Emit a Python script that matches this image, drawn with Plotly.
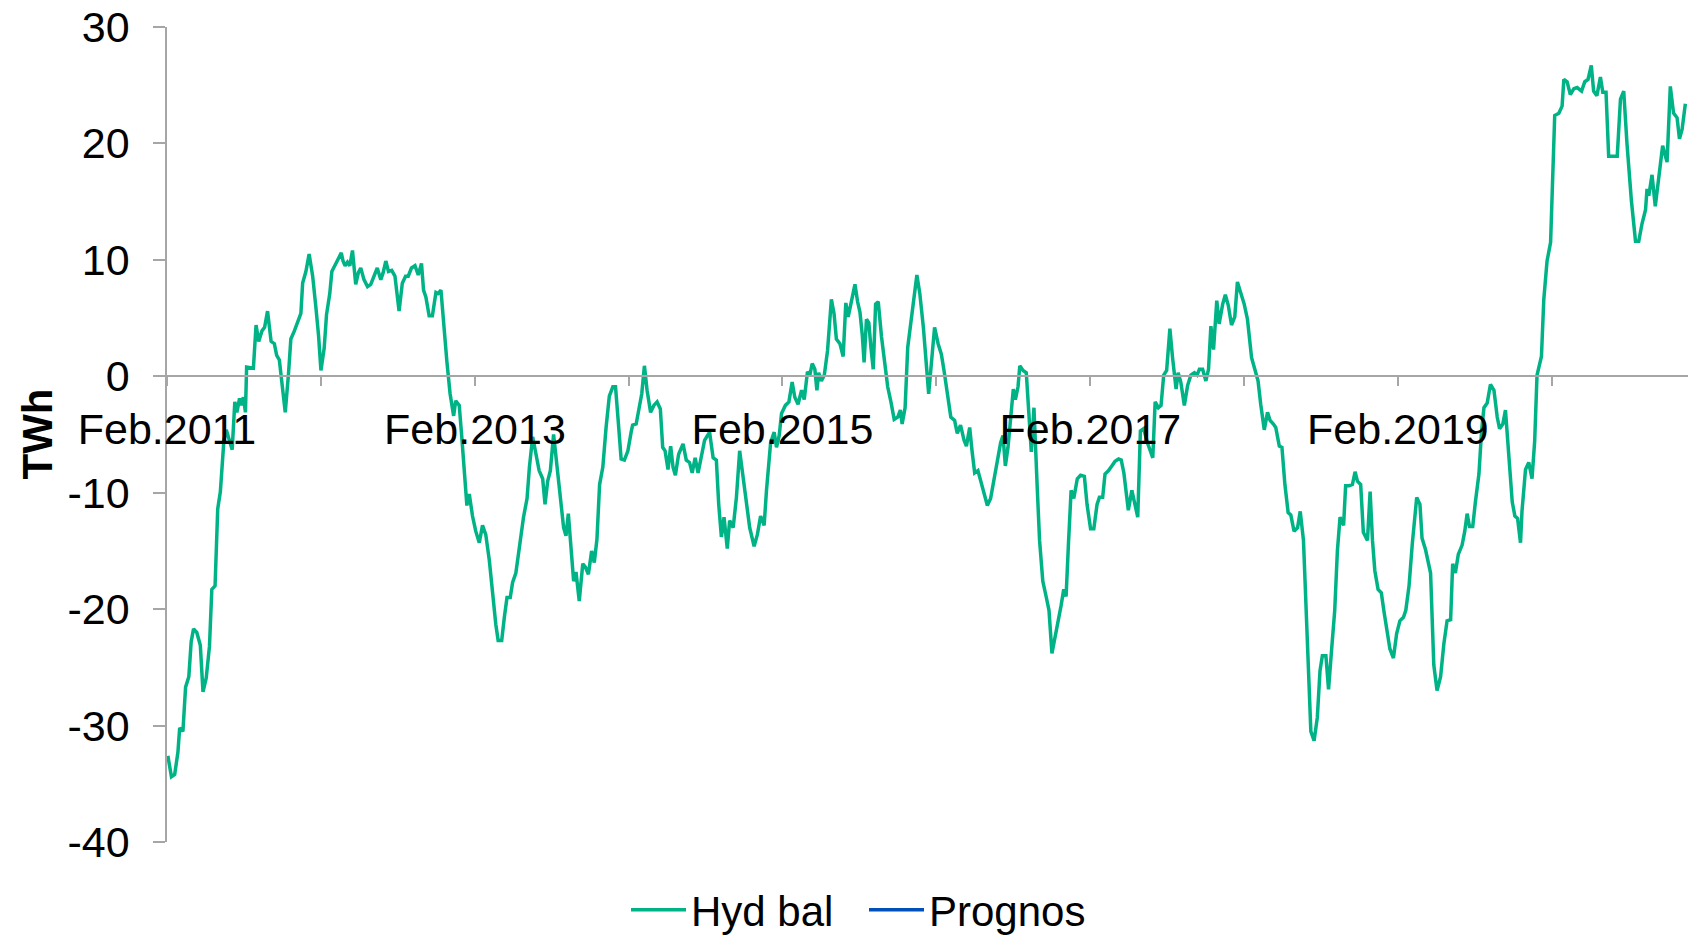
import numpy as np
import pandas as pd
import plotly.graph_objects as go

# ---- data ----
start_date = "2011-02-01"
# weeks since start_date, and hydro balance in TWh
weeks = [
    0.3, 1.5, 2.6, 3.7, 4.3, 5.4, 6.3, 7.4, 8.2, 9.0, 10.1, 11.3, 12.2, 13.3, 14.4, 15.2, 16.3, 17.2, 18.1, 19.3,
    20.1, 21.2, 22.1, 23.0, 23.7, 24.6, 25.1, 25.9, 26.6, 27.0, 28.5, 29.3, 30.2, 31.1, 32.2, 33.1, 34.1, 35.3, 36.4, 37.2,
    38.1, 39.2, 40.1, 41.2, 42.0, 43.2, 44.3, 45.4, 46.0, 47.1, 48.2, 49.4, 50.5, 51.4, 52.2, 53.3, 54.1, 55.2, 55.9, 57.0,
    58.2, 59.1, 59.7, 60.4, 61.2, 62.0, 62.9, 64.0, 64.9, 65.7, 66.8, 68.0, 69.1, 70.2, 71.3, 72.5, 73.3, 74.2, 75.1, 76.2,
    77.3, 78.7, 79.8, 80.9, 81.8, 82.9, 84.1, 85.2, 86.3, 87.0, 87.8, 88.9, 90.0, 91.2, 91.9, 92.9, 93.8, 94.9, 96.0, 97.2,
    97.9, 99.1, 99.9, 100.8, 101.7, 102.5, 103.6, 104.7, 105.9, 107.0, 108.1, 109.3, 110.4, 111.5, 112.3, 113.5, 114.4, 115.3, 116.4, 117.2,
    118.3, 119.1, 120.0, 120.9, 122.1, 122.9, 124.0, 125.1, 126.2, 127.4, 128.2, 129.1, 130.0, 131.1, 132.2, 133.4, 134.5, 135.3, 136.1, 137.0,
    137.9, 138.7, 139.8, 141.0, 141.9, 142.9, 144.0, 144.9, 145.8, 146.7, 147.8, 148.9, 150.0, 151.2, 152.1, 153.1, 154.0, 155.1, 156.3, 157.4,
    157.9, 159.1, 159.9, 161.0, 161.9, 162.8, 164.0, 165.1, 166.2, 167.3, 168.1, 168.9, 169.9, 170.8, 171.6, 172.4, 173.5, 175.0, 176.1, 177.2,
    178.1, 179.1, 180.1, 181.2, 182.3, 184.0, 185.2, 186.3, 187.1, 188.0, 188.9, 190.0, 190.8, 192.0, 193.1, 194.2, 195.4, 196.5, 197.6, 199.1,
    200.2, 201.3, 202.5, 203.3, 204.1, 204.7, 205.9, 206.7, 207.6, 208.4, 209.7, 210.9, 212.0, 212.9, 214.0, 215.2, 216.1, 217.2, 218.0, 218.8,
    219.7, 220.4, 221.0, 221.9, 222.9, 224.0, 225.3, 226.2, 227.0, 228.2, 229.3, 230.2, 231.0, 231.6, 232.4, 233.3, 234.2, 235.0, 235.8, 236.4,
    237.2, 238.0, 238.7, 239.5, 240.3, 241.2, 242.3, 243.5, 244.4, 245.5, 246.6, 247.8, 248.7, 249.3, 250.3, 251.2, 252.7, 254.3, 255.3, 256.5,
    258.3, 259.2, 260.3, 261.5, 262.6, 263.5, 264.6, 265.8, 267.1, 268.0, 269.1, 270.3, 271.1, 272.2, 273.0, 273.9, 275.0, 275.9, 277.0, 278.2,
    279.3, 280.4, 281.6, 282.7, 283.5, 284.3, 285.2, 286.1, 287.0, 287.7, 288.6, 289.2, 290.3, 291.4, 292.2, 293.1, 294.0, 294.4, 295.1, 295.9,
    297.0, 298.2, 299.1, 300.1, 301.2, 302.4, 303.2, 304.1, 304.9, 305.7, 306.6, 307.5, 308.7, 309.8, 311.1, 312.0, 313.2, 314.3, 315.4, 316.2,
    317.3, 318.1, 319.3, 320.4, 321.5, 322.7, 323.6, 324.5, 325.3, 326.0, 327.2, 328.1, 329.2, 330.1, 331.2, 332.6, 334.3, 335.1, 336.2, 337.1,
    338.0, 339.0, 340.1, 341.0, 342.2, 342.9, 343.8, 345.0, 346.1, 347.2, 348.4, 349.3, 350.1, 351.2, 352.3, 353.2, 354.0, 354.9, 356.0, 356.8,
    358.0, 358.9, 359.9, 361.0, 362.1, 363.0, 364.2, 365.3, 366.4, 367.8, 368.9, 370.0, 370.9, 372.1, 373.2, 374.1, 375.2, 376.0, 377.2, 378.1,
    379.1, 380.2, 381.1, 382.2, 383.4, 384.3, 385.4, 386.5, 387.9, 389.0, 390.1, 391.0, 391.8, 393.0, 393.9, 394.9, 396.0, 396.9, 397.8, 399.0,
    399.7, 400.9, 402.0, 402.9, 403.7, 404.8, 405.7, 407.1, 408.0, 408.8, 409.6, 410.7, 411.8, 412.7, 413.8, 414.7, 415.9, 417.0, 418.1, 419.3,
    420.1, 421.2, 422.3, 423.8, 424.9, 425.6, 426.8, 428.5, 429.6, 430.7, 431.9, 433.0, 434.1, 435.3, 436.0, 436.9, 437.9, 439.2, 440.1, 440.9,
    441.7, 442.8, 443.7, 444.9, 445.8, 446.6, 447.7, 448.8, 450.0, 451.1, 451.9, 453.0, 453.9, 454.8, 456.2, 457.1, 458.0, 459.0, 459.5, 460.7,
    461.8, 462.9, 463.8, 464.6, 466.1, 466.9, 468.0, 469.2, 469.9, 470.6, 472.0, 473.1, 473.7, 474.8, 475.9, 477.1, 478.2, 479.7, 480.8, 481.9,
    483.0, 483.8, 484.9, 486.1, 486.9, 488.0, 488.9, 490.6, 491.8, 492.9, 494.0, 495.1, 496.6, 498.0, 499.1, 500.2, 501.4, 501.9, 502.5, 503.6,
    504.7, 505.9, 507.2, 508.7, 509.8, 510.9, 512.1, 512.9, 513.8, 514.9,
]
hyd_bal = [
    -32.6, -34.4, -34.2, -32.3, -30.2, -30.5, -26.7, -25.8, -22.8, -21.7, -22.0, -23.1, -27.1, -25.9, -23.2, -18.3, -18.0, -11.4, -9.9, -5.5,
    -4.6, -5.7, -6.3, -2.2, -3.1, -1.9, -2.5, -1.8, -3.1, 0.8, 0.7, 0.7, 4.4, 3.0, 3.9, 4.2, 5.6, 3.0, 2.8, 1.8,
    1.4, -1.0, -3.1, 0.2, 3.2, 3.9, 4.6, 5.4, 8.0, 9.0, 10.5, 8.6, 5.9, 3.5, 0.5, 2.4, 5.3, 7.1, 9.0, 9.5,
    10.2, 10.6, 9.9, 9.5, 9.8, 9.5, 10.8, 7.9, 8.9, 9.3, 8.3, 7.7, 7.9, 8.7, 9.3, 8.3, 8.9, 9.9, 9.0, 9.1,
    8.6, 5.6, 8.0, 8.6, 8.6, 9.3, 9.5, 8.7, 9.7, 7.4, 6.8, 5.2, 5.2, 7.2, 7.1, 7.4, 4.5, 1.3, -1.5, -3.4,
    -2.1, -2.5, -5.0, -8.4, -11.1, -10.1, -12.0, -13.3, -14.3, -12.8, -13.6, -15.8, -18.7, -21.3, -22.7, -22.7, -20.7, -19.0, -19.0, -17.7,
    -16.9, -15.3, -14.0, -12.1, -10.5, -7.8, -5.2, -6.7, -8.1, -8.8, -11.0, -9.0, -8.1, -5.0, -7.8, -10.7, -13.0, -13.7, -11.8, -14.7,
    -17.6, -16.8, -19.3, -16.1, -16.4, -17.0, -15.0, -16.0, -14.0, -9.3, -7.8, -4.4, -1.7, -0.9, -0.9, -4.1, -7.1, -7.2, -6.4, -4.8,
    -4.2, -4.1, -3.0, -1.5, 0.9, -1.2, -3.1, -2.5, -2.2, -2.8, -6.1, -6.4, -8.0, -6.0, -7.8, -8.5, -6.7, -5.8, -7.2, -7.4,
    -8.3, -7.0, -8.3, -7.0, -5.5, -4.8, -7.0, -7.2, -11.0, -13.8, -12.1, -14.8, -12.4, -13.0, -10.4, -6.4, -8.7, -11.3, -13.0, -14.6,
    -13.6, -12.0, -12.8, -9.8, -7.8, -5.7, -4.8, -6.1, -5.1, -3.2, -2.5, -2.2, -0.5, -1.8, -2.4, -1.2, -2.0, 0.4, 0.1, 1.1,
    0.6, -1.2, 0.3, -0.4, 0.1, 2.2, 6.6, 5.4, 3.2, 2.8, 1.7, 6.3, 5.1, 5.9, 6.8, 7.9, 6.4, 5.5, 3.5, 1.2,
    4.9, 4.6, 2.5, 0.6, 6.2, 6.4, 3.4, 1.1, -0.9, -2.2, -3.7, -3.5, -2.9, -4.1, -2.7, 2.5, 5.6, 8.7, 7.1, 4.2,
    -1.5, 1.3, 4.2, 2.8, 1.9, 0.5, -1.5, -3.5, -3.8, -4.9, -4.2, -5.5, -6.0, -4.4, -6.4, -8.3, -8.1, -9.0, -10.1, -11.1,
    -10.5, -9.0, -7.1, -5.7, -5.1, -7.7, -6.1, -3.8, -1.1, -2.0, -0.9, 0.9, 0.5, 0.3, -2.7, -6.5, -2.7, -4.7, -9.5, -14.1,
    -17.6, -19.0, -20.1, -23.8, -22.4, -21.0, -19.7, -18.3, -18.9, -14.4, -9.8, -10.5, -8.8, -8.5, -8.6, -11.0, -13.1, -13.1, -11.0, -10.4,
    -10.4, -8.4, -8.1, -7.7, -7.3, -7.1, -7.2, -8.3, -9.8, -11.5, -9.8, -11.0, -12.1, -4.7, -4.5, -5.8, -7.0, -2.2, -2.7, -2.5,
    0.1, 0.5, 4.1, 1.6, -1.1, 0.3, -0.5, -2.5, -0.8, 0.1, 0.3, 0.1, 0.6, 0.6, -0.4, 0.6, 4.3, 2.3, 6.5, 4.5,
    6.2, 7.0, 6.1, 4.4, 5.1, 8.1, 7.1, 6.2, 4.9, 1.6, 0.6, -0.4, -2.4, -4.6, -3.1, -3.8, -4.1, -4.4, -6.0, -6.1,
    -9.3, -11.7, -11.9, -13.3, -13.0, -11.6, -14.1, -21.3, -30.5, -31.3, -29.3, -25.3, -24.0, -24.0, -26.9, -23.6, -20.1, -15.0, -12.1, -12.8,
    -9.4, -9.4, -9.3, -8.2, -9.0, -9.3, -13.4, -14.1, -9.9, -14.1, -16.7, -18.3, -18.6, -20.2, -22.1, -23.4, -24.2, -22.1, -21.0, -20.7,
    -20.1, -18.0, -14.4, -10.4, -11.0, -13.9, -14.9, -16.9, -24.8, -27.0, -25.8, -23.0, -21.0, -20.9, -16.1, -16.9, -15.3, -14.5, -13.3, -11.8,
    -12.9, -12.9, -10.8, -8.4, -4.7, -2.7, -2.3, -0.7, -1.2, -3.5, -4.5, -4.1, -2.9, -6.0, -10.8, -12.0, -12.2, -14.3, -11.6, -8.0,
    -7.4, -8.8, -5.6, 0.1, 1.7, 6.6, 9.9, 11.5, 16.3, 22.4, 22.6, 23.2, 25.5, 25.3, 24.2, 24.7, 24.8, 24.5, 25.3, 25.5,
    26.7, 24.5, 24.1, 25.7, 24.4, 24.4, 18.9, 18.9, 18.9, 23.8, 24.5, 20.0, 15.1, 11.6, 11.6, 13.1, 14.3, 16.1, 15.5, 17.3,
    14.6, 17.1, 19.8, 18.4, 24.9, 22.6, 22.2, 20.4, 21.2, 23.4,
]
prognos = [None]  # forecast series: no visible data in the picture

series_names = ["Hyd bal", "Prognos"]
y_ticks = [-40, -30, -20, -10, 0, 10, 20, 30]
y_tick_text = ["-40", "-30", "-20", "-10", "0", "10", "20", "30"]
y_range = [-40, 30]
x_end_weeks = 515.8

# ---- build ----
t0 = pd.Timestamp(start_date)
dates = t0 + pd.to_timedelta(np.array(weeks) * 7, unit="D")
x_end = t0 + pd.to_timedelta(x_end_weeks * 7, unit="D")

FONT = "Arial, 'Liberation Sans', sans-serif"
AX = "#a6a6a6"
FS = 43

fig = go.Figure()
fig.add_trace(go.Scatter(x=dates, y=hyd_bal, mode="lines", name=series_names[0],
                         line=dict(color="#00b386", width=3.5)))
fig.add_trace(go.Scatter(x=[t0], y=prognos, mode="lines", name=series_names[1],
                         line=dict(color="#0050b8", width=3.5)))

zero_pos = (0 - y_range[0]) / (y_range[1] - y_range[0])

fig.update_layout(
    width=1688, height=935,
    margin=dict(l=167, r=0, t=27, b=93, autoexpand=False),
    paper_bgcolor="white", plot_bgcolor="white",
    font=dict(family=FONT, size=FS, color="black"),
    showlegend=True,
    legend=dict(orientation="h", x=(626 - 167) / 1521, xanchor="left",
                y=(842 - 910) / 815, yanchor="middle",
                font=dict(size=42), itemwidth=55, entrywidthmode="pixels", entrywidth=168,
                bgcolor="rgba(0,0,0,0)"),
    xaxis=dict(
        type="date", range=[t0, x_end],
        anchor="free", position=zero_pos,
        showline=True, linecolor=AX, linewidth=1.5,
        ticks="outside", ticklen=9, tickcolor=AX, tickwidth=1.5,
        tick0=start_date, dtick="M24", tickformat="%b.%Y",
        minor=dict(dtick="M12", tick0=start_date, ticks="outside", ticklen=9,
                   tickcolor=AX, tickwidth=1.5, showgrid=False),
        showgrid=False, zeroline=False,
        tickfont=dict(size=FS, color="black"),
        ticklabelstandoff=6,
    ),
    yaxis=dict(
        range=y_range, tickvals=y_ticks, ticktext=y_tick_text,
        showline=True, linecolor=AX, linewidth=1.5,
        ticks="outside", ticklen=12, tickcolor=AX, tickwidth=1.5,
        showgrid=False, zeroline=False,
        tickfont=dict(size=FS, color="black"),
        ticklabelstandoff=15,
    ),
    annotations=[dict(text="<b>TWh</b>", textangle=-90, xref="paper", yref="paper",
                      x=(37 - 167) / 1521, y=0.5, xanchor="center", yanchor="middle",
                      showarrow=False, font=dict(size=42, color="black", family=FONT))],
)

fig.write_html("out.html", config={"displayModeBar": False},
               post_script="document.body.style.margin='0';document.body.style.overflow='hidden';")
